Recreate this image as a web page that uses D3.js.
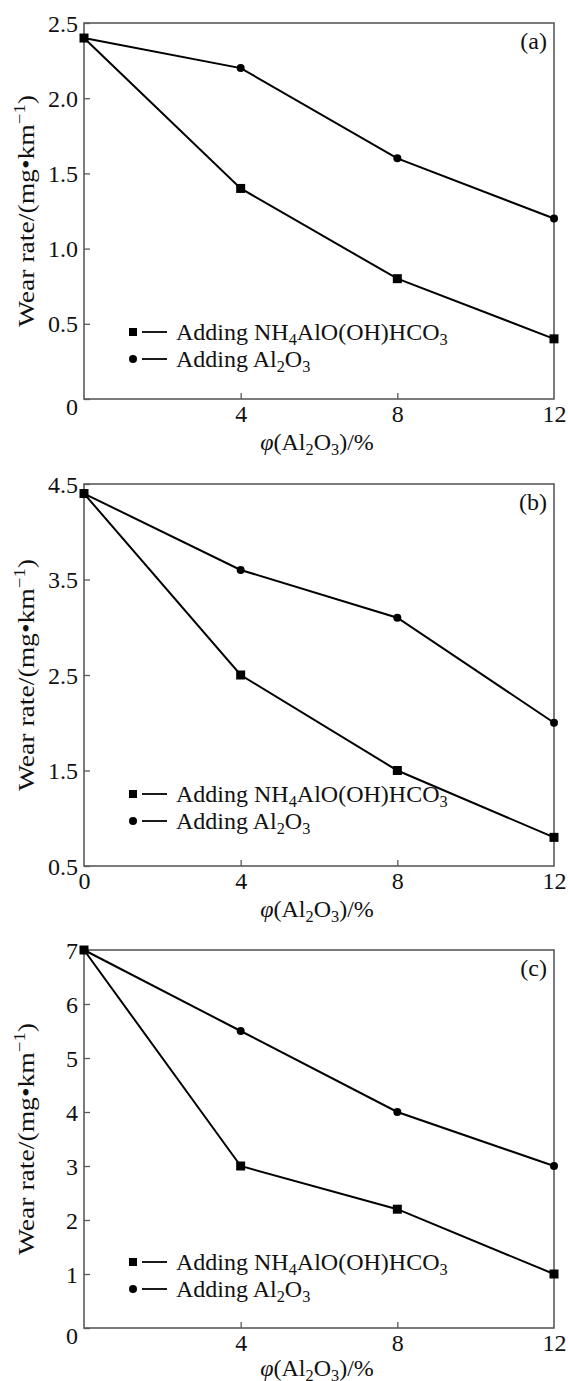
<!DOCTYPE html>
<html><head><meta charset="utf-8">
<script src="https://cdn.jsdelivr.net/npm/d3@7"></script>
<style>
body{margin:0;background:#fff}
svg text{font-family:"Liberation Serif","Times New Roman",serif;fill:#111}
</style>
</head><body>
<svg id="chart" width="568" height="1381"></svg>
<script>
// ---------- data ----------
const xValues = [0, 4, 8, 12];
const xTickValues = [4, 8, 12];
const seriesNames = ["Adding NH4AlO(OH)HCO3", "Adding Al2O3"];
const panelLabels = ["(a)", "(b)", "(c)"];

const nh4A = [2.4, 1.4, 0.8, 0.4];
const al2o3A = [2.4, 2.2, 1.6, 1.2];
const nh4B = [4.4, 2.5, 1.5, 0.8];
const al2o3B = [4.4, 3.6, 3.1, 2.0];
const nh4C = [7.0, 3.0, 2.2, 1.0];
const al2o3C = [7.0, 5.5, 4.0, 3.0];

const yTicksA = [0, 0.5, 1.0, 1.5, 2.0, 2.5];
const yTickLabelsA = ["0", "0.5", "1.0", "1.5", "2.0", "2.5"];
const yTicksB = [0.5, 1.5, 2.5, 3.5, 4.5];
const yTickLabelsB = ["0.5", "1.5", "2.5", "3.5", "4.5"];
const yTicksC = [0, 1, 2, 3, 4, 5, 6, 7];
const yTickLabelsC = ["0", "1", "2", "3", "4", "5", "6", "7"];

const yTitle = "Wear rate/(mg\u2022km";
const yTitleSup = "\u22121";
// ---------- layout ----------
const FS = 24;
const left = 84, right = 554;
const panels = [
  {label: panelLabels[0], top: 23,  bottom: 399,  ticks: yTicksA, tickLabels: yTickLabelsA, s1: nh4A, s2: al2o3A, xZero: false, leg: [67, 40], tOff: 51},
  {label: panelLabels[1], top: 484, bottom: 866,  ticks: yTicksB, tickLabels: yTickLabelsB, s1: nh4B, s2: al2o3B, xZero: true,  leg: [72, 45], tOff: 51},
  {label: panelLabels[2], top: 950, bottom: 1328, ticks: yTicksC, tickLabels: yTickLabelsC, s1: nh4C, s2: al2o3C, xZero: false, leg: [66, 39], tOff: 48}
];

const svg = d3.select("#chart");
const axisColor = "#5a5a5a";

function chemText(sel, str, size) {
  const parts = str.split(/(\d)/).filter(p => p !== "");
  let sub = false;
  parts.forEach(p => {
    if (/^\d$/.test(p)) {
      sel.append("tspan").attr("font-size", size * 0.68).attr("dy", sub ? 0 : size * 0.22).text(p);
      sub = true;
    } else {
      sel.append("tspan").attr("dy", sub ? -size * 0.22 : 0).text(p);
      sub = false;
    }
  });
}

panels.forEach(p => {
  const x = d3.scaleLinear().domain([0, 12]).range([left, right]);
  const y = d3.scaleLinear().domain([p.ticks[0], p.ticks[p.ticks.length - 1]]).range([p.bottom, p.top]);
  const g = svg.append("g");

  g.append("rect").attr("x", left).attr("y", p.top).attr("width", right - left).attr("height", p.bottom - p.top)
    .attr("fill", "none").attr("stroke", axisColor).attr("stroke-width", 1.6);

  const ya = g.append("g").attr("transform", `translate(${left},0)`)
    .call(d3.axisLeft(y).tickValues(p.ticks).tickFormat((d, i) => p.tickLabels[i]).tickSizeInner(-6).tickSizeOuter(0).tickPadding(6));
  ya.select(".domain").remove();
  ya.selectAll(".tick line").attr("stroke", axisColor).attr("stroke-width", 1.3);
  ya.selectAll(".tick text").each(function(d) {
    const extra = (d === 0 && !p.xZero) ? 7 : 0;
    d3.select(this).attr("x", null).attr("dy", null).attr("font-size", FS).attr("text-anchor", "end")
      .attr("transform", `translate(-6,${8 + extra})`);
  });

  const xt = p.xZero ? [0].concat(xTickValues) : xTickValues;
  const xa = g.append("g").attr("transform", `translate(0,${p.bottom})`)
    .call(d3.axisBottom(x).tickValues(xt).tickFormat(d3.format("d")).tickSizeInner(-6).tickSizeOuter(0).tickPadding(6));
  xa.select(".domain").remove();
  xa.selectAll(".tick line").attr("stroke", axisColor).attr("stroke-width", 1.3).filter(d => d === 0 || d === 12).remove();
  xa.selectAll(".tick text").each(function() {
    d3.select(this).attr("y", null).attr("dy", null).attr("font-size", FS)
      .attr("transform", `translate(0,23)`);
  });

  // x title
  const xtT = g.append("text").attr("font-size", FS).attr("text-anchor", "middle")
    .attr("transform", `translate(${(left + right) / 2 - 2},${p.bottom + p.tOff})`);
  xtT.append("tspan").attr("font-style", "italic").text("\u03C6");
  chemText(xtT, "(Al2O3)/%", FS);

  // y title
  const ytT = g.append("text").attr("font-size", FS).attr("text-anchor", "middle")
    .attr("transform", `translate(34,${(p.top + p.bottom) / 2}) rotate(-90) scale(1.15,1)`);
  ytT.append("tspan").text(yTitle);
  ytT.append("tspan").attr("font-size", FS * 0.68).attr("dy", -FS * 0.38).text(yTitleSup);
  ytT.append("tspan").attr("dy", FS * 0.38).text(")");

  // panel label
  g.append("text").attr("font-size", FS).attr("text-anchor", "end")
    .attr("transform", `translate(547,${p.top + 26})`).text(p.label);

  // lines
  const line = d3.line().x((d, i) => x(xValues[i])).y(d => y(d));
  [p.s2, p.s1].forEach(s => {
    g.append("path").datum(s).attr("d", line).attr("fill", "none").attr("stroke", "#000").attr("stroke-width", 2);
  });
  g.selectAll(".c").data(p.s2).enter().append("circle")
    .attr("cx", (d, i) => x(xValues[i])).attr("cy", d => y(d)).attr("r", 4).attr("fill", "#000");
  g.selectAll(".s").data(p.s1).enter().append("rect")
    .attr("x", (d, i) => x(xValues[i]) - 4.5).attr("y", d => y(d) - 4.5).attr("width", 9).attr("height", 9).attr("fill", "#000");

  // legend
  seriesNames.forEach((name, k) => {
    const cy = p.bottom - p.leg[k];
    if (k === 0) g.append("rect").attr("x", 129).attr("y", cy - 4).attr("width", 8).attr("height", 8).attr("fill", "#000");
    else g.append("circle").attr("cx", 133).attr("cy", cy).attr("r", 4).attr("fill", "#000");
    g.append("line").attr("x1", 142).attr("x2", 167).attr("y1", cy).attr("y2", cy).attr("stroke", "#000").attr("stroke-width", 1.8);
    const t = g.append("text").attr("font-size", FS).attr("transform", `translate(176,${cy + 8})`);
    chemText(t, name, FS);
  });
});
</script>
</body></html>
